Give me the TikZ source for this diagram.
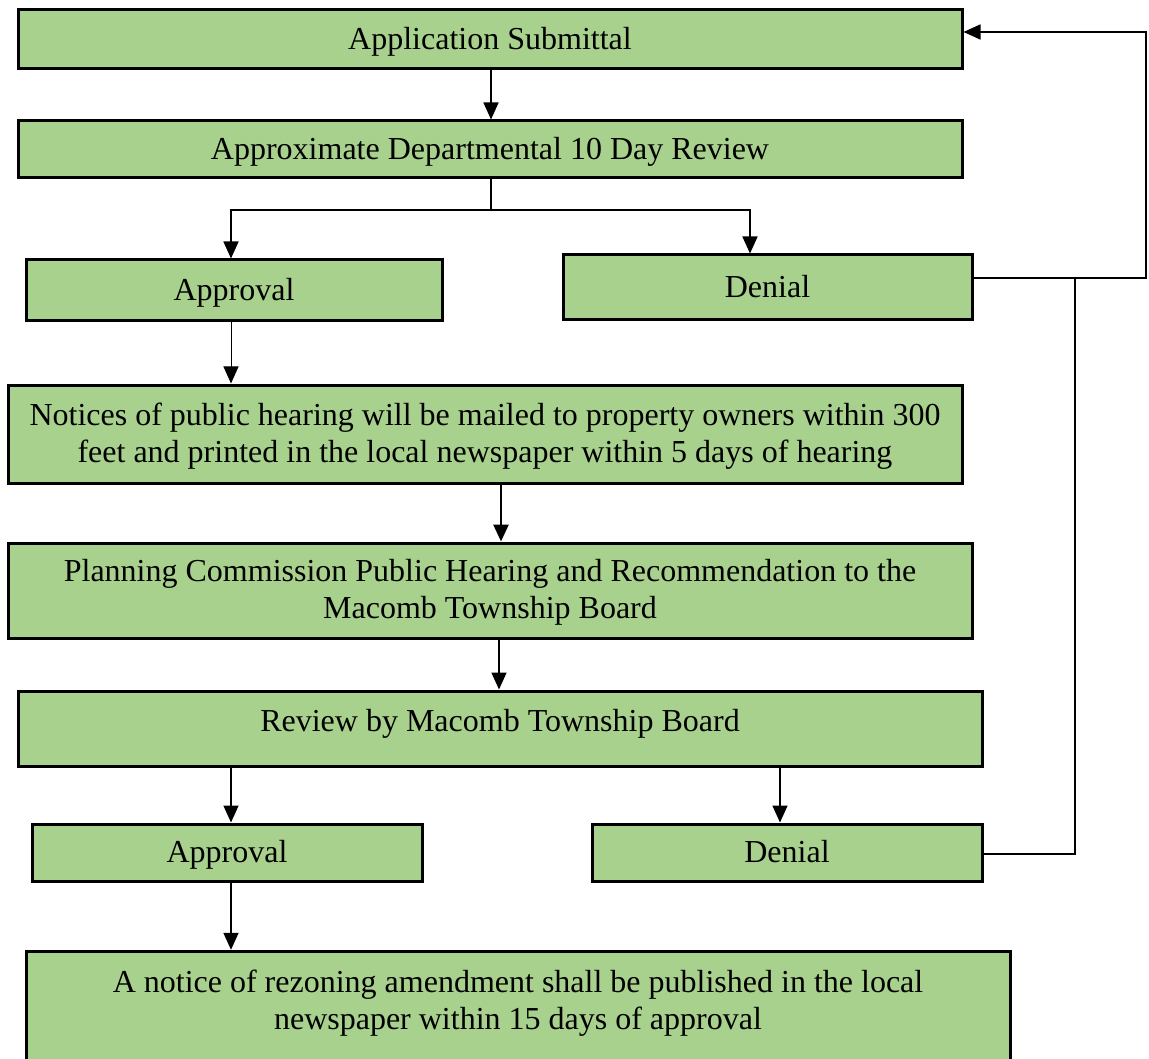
\documentclass[tikz,border=0pt]{standalone}
\usepackage{fontspec}
\setmainfont{Liberation Serif}
\usetikzlibrary{arrows.meta}
\definecolor{boxgreen}{HTML}{A9D18E}
\newcommand{\twolines}[2]{\begin{tabular}[t]{@{}c@{}}#1\\#2\end{tabular}}
\begin{document}
\begin{tikzpicture}[x=1pt,y=-1pt,
  box/.style={draw=black, line width=3pt, fill=boxgreen, rectangle, inner sep=0pt,
    text height=26pt, text depth=6pt, font=\fontsize{32}{37}\selectfont},
  twobox/.style={box, text height=26pt, text depth=44pt},
  conn/.style={line width=1.6pt, draw=black},
  tip/.style={-{Triangle[length=17pt,width=15pt]}},
  arr/.style={conn, tip},
  thinarr/.style={line width=0.9pt, tip},
  thickarr/.style={line width=2.8pt, tip}]
\useasboundingbox (0,0) rectangle (1149,1059);

\node[box, minimum width=944, minimum height=59] (app) at (490,39.5) {Application Submittal};
\node[box, minimum width=944, minimum height=57] (rev) at (490,149.5) {Approximate Departmental 10 Day Review};
\node[box, minimum width=416, minimum height=61] (apa) at (234,290.5) {Approval};
\node[box, minimum width=409, minimum height=65] (dna) at (767.5,287.5) {Denial};
\node[twobox, minimum width=954, minimum height=98] (not) at (485,434) {\twolines{Notices of public hearing will be mailed to property owners within 300}{feet and printed in the local newspaper within 5 days of hearing}};
\node[twobox, minimum width=964, minimum height=95] (pln) at (490,590.5) {\twolines{Planning Commission Public Hearing and Recommendation to the}{Macomb Township Board}};
\node[box, minimum width=964, minimum height=75, text height=11pt, text depth=6pt] (brd) at (500,728.5) {Review by Macomb Township Board};
\node[box, minimum width=390, minimum height=57] (apb) at (227,852.5) {Approval};
\node[box, minimum width=390, minimum height=57] (dnb) at (787,852.5) {Denial};
\node[twobox, minimum width=984, minimum height=130, text height=26.4pt, text depth=75pt] (rez) at (518,1016.3) {\twolines{A notice of rezoning amendment shall be published in the local}{newspaper within 15 days of approval}};

% coordinates
\coordinate (j1) at (491,210);
\coordinate (rtop) at (1146,32);
\coordinate (rmid) at (1146,278);
\coordinate (jx) at (1075,278);
\coordinate (jb) at (1075,854);

\draw[arr] (app.south -| 491,0) -- (rev.north -| 491,0);
\draw[conn] (rev.south -| j1) -- (j1);
\draw[arr] (j1) -- (j1 -| 231,0) -- (apa.north -| 231,0);
\draw[arr] (j1) -- (j1 -| 750,0) -- (dna.north -| 750,0);
\draw[thinarr] (apa.south -| 231,0) -- (not.north -| 231,0);
\draw[thickarr] (not.south -| 501,0) -- (pln.north -| 501,0);
\draw[arr] (pln.south -| 499,0) -- (brd.north -| 499,0);
\draw[arr] (brd.south -| 231,0) -- (apb.north -| 231,0);
\draw[arr] (brd.south -| 780,0) -- (dnb.north -| 780,0);
\draw[arr] (apb.south -| 231,0) -- (rez.north -| 231,0);
\draw[arr] (dna.east |- rmid) -- (rmid) -- (rtop) -- (app.east |- rtop);
\draw[conn] (dnb.east |- jb) -- (jb) -- (jx);
\end{tikzpicture}
\end{document}
